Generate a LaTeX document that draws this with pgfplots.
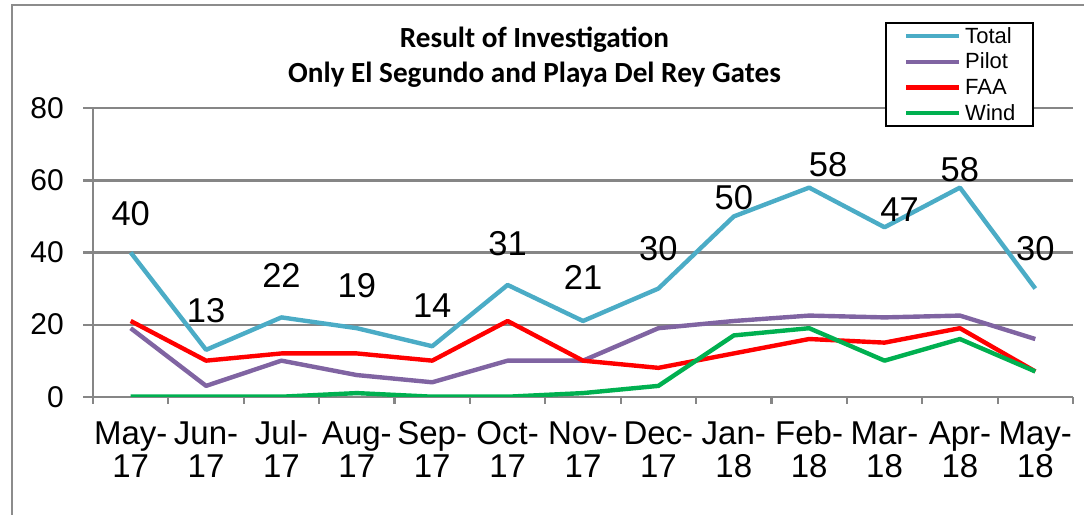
\documentclass[border=0pt]{standalone}
\usepackage{fontspec}
\setmainfont{Liberation Sans}
\newfontfamily\calibri{Carlito}
\usepackage{pgfplots}
\pgfplotsset{compat=1.18}
\definecolor{ctotal}{HTML}{4BACC6}
\definecolor{cpilot}{HTML}{8064A2}
\definecolor{cfaa}{HTML}{FF0000}
\definecolor{cwind}{HTML}{00B050}
\definecolor{gridgray}{HTML}{868686}
\definecolor{framegray}{HTML}{8C8C8C}
\newcommand\xs{\rule{0pt}{38pt}}
\begin{document}
\begin{tikzpicture}[x=1pt,y=1pt]
\useasboundingbox (0,0) rectangle (1084,514);
\draw[framegray, line width=1.8pt] (12,-10) -- (12,509) -- (1100,509);
\node[font=\calibri\bfseries\fontsize{29.2}{35}\selectfont, anchor=base, inner sep=0pt] at (534.5,466.5) {Result of Investigation};
\node[font=\calibri\bfseries\fontsize{29.2}{35}\selectfont, anchor=base, inner sep=0pt] at (534.5,431) {Only El Segundo and Playa Del Rey Gates};
\begin{axis}[
  at={(93pt,117.3pt)}, anchor=south west,
  scale only axis, width=980pt, height=288.4pt,
  xmin=-0.5, xmax=12.5, ymin=0, ymax=80,
  axis x line*=bottom, axis y line*=left,
  axis line style={draw=gridgray, line width=2.2pt},
  ytick={0,20,40,60,80},
  ymajorgrids, grid style={draw=gridgray, line width=2.2pt},
  xtick={0,...,12},
  xticklabels={{\xs May-\\17},{\xs Jun-\\17},{\xs Jul-\\17},{\xs Aug-\\17},{\xs Sep-\\17},{\xs Oct-\\17},{\xs Nov-\\17},{\xs Dec-\\17},{\xs Jan-\\18},{\xs Feb-\\18},{\xs Mar-\\18},{\xs Apr-\\18},{\xs May-\\18}},
  minor xtick={-0.5,0.5,...,12.5},
  tick align=outside,
  major tick length=10pt, minor tick length=7pt,
  tick style={draw=gridgray, line width=2.2pt},
  major x tick style={draw=none},
  /pgf/number format/assume math mode=true,
  x tick label style={font=\fontsize{33}{33}\selectfont, align=center, inner sep=0pt, anchor=north},
  y tick label style={font=\fontsize{30}{32}\selectfont, inner sep=0pt, anchor=east, xshift=-19pt},
  legend style={at={(0.808,1.298)}, anchor=north west, draw=black, line width=2pt, fill=white,
    inner xsep=18pt, inner ysep=0pt, font=\fontsize{22}{24}\selectfont,
    cells={anchor=west}, nodes={inner sep=0pt, text height=20pt, text depth=5.6pt},
    column sep=4pt, row sep=0pt},
  legend image code/.code={\draw[#1, line width=4.4pt] (0pt,0pt) -- (53pt,0pt);},
  every axis plot/.append style={line width=4.4pt, line join=round, mark=none},
]
\addplot[ctotal] coordinates {(0,40) (1,13) (2,22) (3,19) (4,14) (5,31) (6,21) (7,30) (8,50) (9,58) (10,47) (11,58) (12,30)};
\addlegendentry{Total}
\addplot[cpilot] coordinates {(0,19) (1,3) (2,10) (3,6) (4,4) (5,10) (6,10) (7,19) (8,21) (9,22.5) (10,22) (11,22.5) (12,16)};
\addlegendentry{Pilot}
\addplot[cfaa] coordinates {(0,21) (1,10) (2,12) (3,12) (4,10) (5,21) (6,10) (7,8) (8,12) (9,16) (10,15) (11,19) (12,7)};
\addlegendentry{FAA}
\addplot[cwind] coordinates {(0,0) (1,0) (2,0) (3,1) (4,0) (5,0) (6,1) (7,3) (8,17) (9,19) (10,10) (11,16) (12,7)};
\addlegendentry{Wind}
\addplot[draw=none, forget plot, nodes near coords, point meta=explicit symbolic,
  nodes near coords style={anchor=base, inner sep=0pt, font=\fontsize{34.5}{36}\selectfont, text=black}]
  coordinates {(0,47.6)[40] (1,20.7)[13] (2,30.2)[22] (3,27.4)[19] (4,22.1)[14] (5,39.3)[31] (6,29.6)[21] (7,37.9)[30] (8,51.8)[50] (9.25,61.0)[58] (10.2,48.5)[47] (11,59.6)[58] (12,37.9)[30]};
\end{axis}
\end{tikzpicture}
\end{document}
